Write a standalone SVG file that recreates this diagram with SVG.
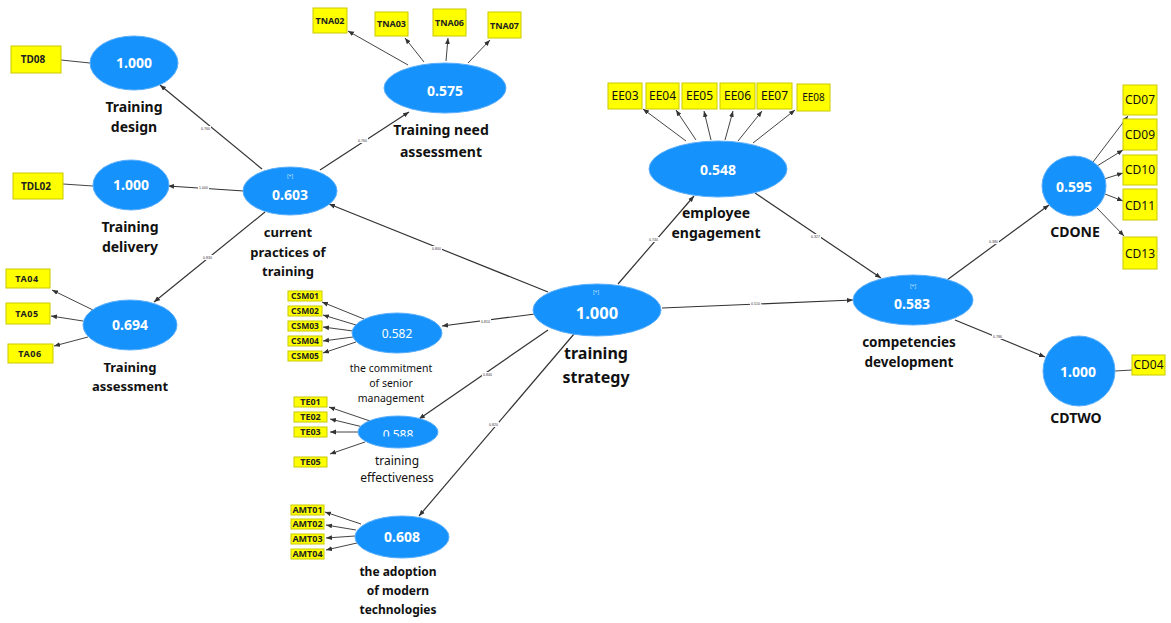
<svg xmlns="http://www.w3.org/2000/svg" width="1171" height="623" viewBox="0 0 1171 623">
<defs>
<marker id="ah" viewBox="0 0 10 10" refX="10" refY="5" markerWidth="6" markerHeight="6" markerUnits="userSpaceOnUse" orient="auto"><path d="M0,1 L10,5 L0,9 z" fill="#333"/></marker>
<clipPath id="teclip"><rect x="350" y="400" width="100" height="36.5"/></clipPath>
<style>
.lv{fill:#1592fb;stroke:#5aaefc;stroke-width:1}
.ind{fill:#ffff00;stroke:#c9c900;stroke-width:1}
.val{font-family:"Noto Sans","Liberation Sans",sans-serif;font-weight:bold;font-size:14px;fill:#fff;text-anchor:middle}
.lab{font-family:"Noto Sans","Liberation Sans",sans-serif;font-weight:bold;font-size:14px;fill:#111;text-anchor:middle}
.slab{font-family:"Noto Sans","Liberation Sans",sans-serif;font-size:10.5px;fill:#111;text-anchor:middle}
.it{font-family:"Noto Sans","Liberation Sans",sans-serif;font-weight:bold;font-size:9px;fill:#222;text-anchor:middle}
.itr{font-family:"Noto Sans","Liberation Sans",sans-serif;font-size:12px;fill:#111;text-anchor:middle}
.plus{font-family:"Noto Sans","Liberation Sans",sans-serif;font-size:5px;fill:#cde6ff;text-anchor:middle}
.c{stroke:#444;stroke-width:1;fill:none}
.ca{stroke:#444;stroke-width:1;fill:none;marker-end:url(#ah)}
.s{stroke:#333;stroke-width:1.2;fill:none;marker-end:url(#ah)}
.pl{fill:#fff}
.pt{font-family:"Liberation Sans",sans-serif;font-size:3.5px;fill:#333;text-anchor:middle}
</style>
</defs>
<rect width="1171" height="623" fill="#fff"/>
<g id="connectors">
<path class="s" d="M262,169 L160,85"/>
<path class="s" d="M244,191 L168,186"/>
<path class="s" d="M265,212 L154,302"/>
<path class="s" d="M320,170 L409,112"/>
<path class="s" d="M548,292 L329,204"/>
<path class="s" d="M618,284 L694,196"/>
<path class="s" d="M662,308 L853,300"/>
<path class="s" d="M755,193 L881,278"/>
<path class="s" d="M947,280 L1049,205"/>
<path class="s" d="M955,320 L1045,357"/>
<path class="s" d="M535,314 L442,326"/>
<path class="s" d="M548,330 L419,419"/>
<path class="s" d="M574,334 L419,516"/>
<path class="c" d="M90,63 L61,60"/>
<path class="c" d="M93,186 L63,184"/>
<path class="c" d="M1115,371 L1132,370"/>
<path class="ca" d="M93,310 L52,290"/>
<path class="ca" d="M83,321 L51,316"/>
<path class="ca" d="M88,337 L54,346"/>
<path class="ca" d="M408,65 L348,31"/>
<path class="ca" d="M424,62 L405,38"/>
<path class="ca" d="M446,61 L448,38"/>
<path class="ca" d="M468,63 L490,40"/>
<path class="ca" d="M686,141 L643,109"/>
<path class="ca" d="M696,140 L676,110"/>
<path class="ca" d="M711,140 L704,111"/>
<path class="ca" d="M725,140 L733,111"/>
<path class="ca" d="M738,141 L762,111"/>
<path class="ca" d="M753,143 L795,110"/>
<path class="ca" d="M1093,162 L1128,116"/>
<path class="ca" d="M1097,166 L1123,150"/>
<path class="ca" d="M1104,179 L1123,173"/>
<path class="ca" d="M1105,194 L1123,201"/>
<path class="ca" d="M1097,208 L1124,236"/>
<path class="ca" d="M364,319 L322,302"/>
<path class="ca" d="M356,325 L323,315"/>
<path class="ca" d="M353,331 L323,327"/>
<path class="ca" d="M353,337 L323,341"/>
<path class="ca" d="M356,342 L323,353"/>
<path class="ca" d="M370,421 L329,407"/>
<path class="ca" d="M363,427 L330,419"/>
<path class="ca" d="M358,432 L330,432"/>
<path class="ca" d="M365,442 L330,454"/>
<path class="ca" d="M361,524 L325,512"/>
<path class="ca" d="M356,530 L326,525"/>
<path class="ca" d="M355,536 L326,538"/>
<path class="ca" d="M357,543 L326,550"/>
<rect class="pl" x="200" y="126" width="11" height="5"/><text class="pt" x="205.5" y="130">0.760</text>
<rect class="pl" x="198" y="185" width="11" height="5"/><text class="pt" x="203.5" y="189">1.000</text>
<rect class="pl" x="202" y="255" width="11" height="5"/><text class="pt" x="207.5" y="259">0.830</text>
<rect class="pl" x="357" y="138" width="11" height="5"/><text class="pt" x="362.5" y="142">0.760</text>
<rect class="pl" x="431" y="246" width="11" height="5"/><text class="pt" x="436.5" y="250">0.800</text>
<rect class="pl" x="648" y="237" width="11" height="5"/><text class="pt" x="653.5" y="241">0.740</text>
<rect class="pl" x="750" y="301" width="11" height="5"/><text class="pt" x="755.5" y="305">0.510</text>
<rect class="pl" x="810" y="234" width="11" height="5"/><text class="pt" x="815.5" y="238">0.327</text>
<rect class="pl" x="988" y="239" width="11" height="5"/><text class="pt" x="993.5" y="243">0.380</text>
<rect class="pl" x="992" y="334" width="11" height="5"/><text class="pt" x="997.5" y="338">0.786</text>
<rect class="pl" x="480" y="319" width="11" height="5"/><text class="pt" x="485.5" y="323">0.810</text>
<rect class="pl" x="482" y="372" width="11" height="5"/><text class="pt" x="487.5" y="376">0.840</text>
<rect class="pl" x="488" y="422" width="11" height="5"/><text class="pt" x="493.5" y="426">0.820</text>
</g>
<g id="n-td"><ellipse class="lv" cx="134" cy="63" rx="44" ry="27"/><text class="val" x="134" y="68">1.000</text><text class="lab" x="134" y="112">Training</text><text class="lab" x="134" y="132">design</text></g>
<g id="n-tdl"><ellipse class="lv" cx="131" cy="185" rx="38" ry="25"/><text class="val" x="131" y="190">1.000</text><text class="lab" x="130" y="232">Training</text><text class="lab" x="130" y="252">delivery</text></g>
<g id="n-cpt"><ellipse class="lv" cx="290" cy="191" rx="47" ry="24"/><text class="plus" x="290" y="178">[+]</text><text class="val" x="290" y="200">0.603</text><text class="lab" x="288" y="237" style="font-size:13px">current</text><text class="lab" x="288" y="257" style="font-size:13px">practices of</text><text class="lab" x="288" y="276" style="font-size:13px">training</text></g>
<g id="n-ta"><ellipse class="lv" cx="130" cy="325" rx="47" ry="25"/><text class="val" x="130" y="330">0.694</text><text class="lab" x="130" y="372" style="font-size:13px">Training</text><text class="lab" x="130" y="391" style="font-size:13px">assessment</text></g>
<g id="n-tna"><ellipse class="lv" cx="445" cy="88" rx="61" ry="25"/><text class="val" x="445" y="96">0.575</text><text class="lab" x="441" y="135">Training need</text><text class="lab" x="441" y="157">assessment</text></g>
<g id="n-ee"><ellipse class="lv" cx="718" cy="169" rx="69" ry="28"/><text class="val" x="718" y="175">0.548</text><text class="lab" x="716" y="218">employee</text><text class="lab" x="716" y="238">engagement</text></g>
<g id="n-ts"><ellipse class="lv" cx="597" cy="310" rx="64" ry="26"/><text class="plus" x="596" y="294">[+]</text><text class="val" x="597" y="319" style="font-size:16.5px">1.000</text><text class="lab" x="596" y="359" style="font-size:16px">training</text><text class="lab" x="596" y="383" style="font-size:16px">strategy</text></g>
<g id="n-cd"><ellipse class="lv" cx="913" cy="300" rx="60" ry="25"/><text class="plus" x="913" y="288">[+]</text><text class="val" x="912" y="309">0.583</text><text class="lab" x="909" y="347" style="font-size:13.5px">competencies</text><text class="lab" x="909" y="367" style="font-size:13.5px">development</text></g>
<g id="n-cdone"><ellipse class="lv" cx="1074" cy="186" rx="32" ry="30"/><text class="val" x="1074" y="192">0.595</text><text class="lab" x="1075" y="237">CDONE</text></g>
<g id="n-cdtwo"><ellipse class="lv" cx="1079" cy="371" rx="36" ry="35"/><text class="val" x="1078" y="377">1.000</text><text class="lab" x="1076" y="423">CDTWO</text></g>
<g id="n-csm"><ellipse class="lv" cx="397" cy="333" rx="45" ry="20"/><text class="val" x="397" y="338" style="font-weight:normal;font-size:12px">0.582</text><text class="slab" x="391" y="372">the commitment</text><text class="slab" x="391" y="387">of senior</text><text class="slab" x="391" y="402">management</text></g>
<g id="n-te"><ellipse class="lv" cx="398" cy="432" rx="40" ry="16"/><text class="val" x="398" y="439" style="font-weight:normal;font-size:12px" clip-path="url(#teclip)">0.588</text><text class="slab" x="397" y="465" style="font-size:12px">training</text><text class="slab" x="397" y="482" style="font-size:12px">effectiveness</text></g>
<g id="n-amt"><ellipse class="lv" cx="402" cy="537" rx="47" ry="21"/><text class="val" x="402" y="542">0.608</text><text class="lab" x="398" y="576" style="font-size:12px">the adoption</text><text class="lab" x="398" y="595" style="font-size:12px">of modern</text><text class="lab" x="398" y="614" style="font-size:12px">technologies</text></g>
<g id="i-td08"><rect class="ind" x="11" y="46" width="50" height="27"/><text class="it" x="33" y="63" style="font-size:10px">TD08</text></g>
<g id="i-tdl02"><rect class="ind" x="13" y="173" width="50" height="26"/><text class="it" x="36" y="190" style="font-size:10px">TDL02</text></g>
<g id="i-ta04"><rect class="ind" x="6" y="269" width="44" height="19"/><text class="it" x="27" y="282" style="font-size:9px;letter-spacing:0.6px">TA04</text></g>
<g id="i-ta05"><rect class="ind" x="6" y="303" width="44" height="21"/><text class="it" x="27" y="317" style="font-size:9px;letter-spacing:0.6px">TA05</text></g>
<g id="i-ta06"><rect class="ind" x="8" y="344" width="45" height="19"/><text class="it" x="30" y="357" style="font-size:9px;letter-spacing:0.6px">TA06</text></g>
<g id="i-tna02"><rect class="ind" x="313" y="8" width="34" height="25"/><text class="it" x="330" y="24">TNA02</text></g>
<g id="i-tna03"><rect class="ind" x="375" y="12" width="33" height="24"/><text class="it" x="391.5" y="27">TNA03</text></g>
<g id="i-tna06"><rect class="ind" x="433" y="9" width="33" height="27"/><text class="it" x="449.5" y="26">TNA06</text></g>
<g id="i-tna07"><rect class="ind" x="488" y="12" width="33" height="26"/><text class="it" x="504.5" y="29">TNA07</text></g>
<g id="i-ee03"><rect class="ind" x="608" y="83" width="34" height="26"/><text class="itr" x="625" y="100">EE03</text></g>
<g id="i-ee04"><rect class="ind" x="646" y="83" width="33" height="26"/><text class="itr" x="662.5" y="100">EE04</text></g>
<g id="i-ee05"><rect class="ind" x="682" y="83" width="35" height="26"/><text class="itr" x="699.5" y="100">EE05</text></g>
<g id="i-ee06"><rect class="ind" x="720" y="83" width="35" height="26"/><text class="itr" x="737.5" y="100">EE06</text></g>
<g id="i-ee07"><rect class="ind" x="757" y="83" width="35" height="26"/><text class="itr" x="774.5" y="100">EE07</text></g>
<g id="i-ee08"><rect class="ind" x="797" y="84" width="33" height="27"/><text class="itr" x="813.5" y="101" style="font-size:10px">EE08</text></g>
<g id="i-cd07"><rect class="ind" x="1123" y="85" width="34" height="30"/><text class="itr" x="1140" y="104">CD07</text></g>
<g id="i-cd09"><rect class="ind" x="1123" y="119" width="34" height="31"/><text class="itr" x="1140" y="139">CD09</text></g>
<g id="i-cd10"><rect class="ind" x="1123" y="155" width="34" height="30"/><text class="itr" x="1140" y="174">CD10</text></g>
<g id="i-cd11"><rect class="ind" x="1123" y="189" width="34" height="31"/><text class="itr" x="1140" y="210">CD11</text></g>
<g id="i-cd13"><rect class="ind" x="1123" y="237" width="34" height="32"/><text class="itr" x="1140" y="258">CD13</text></g>
<g id="i-cd04"><rect class="ind" x="1132" y="355" width="33" height="20"/><text class="itr" x="1148.5" y="369">CD04</text></g>
<g id="i-csm01"><rect class="ind" x="288" y="291" width="34" height="10"/><text class="it" x="305" y="299" style="font-size:8.5px">CSM01</text></g>
<g id="i-csm02"><rect class="ind" x="288" y="306" width="34" height="10"/><text class="it" x="305" y="314" style="font-size:8.5px">CSM02</text></g>
<g id="i-csm03"><rect class="ind" x="288" y="321" width="34" height="10"/><text class="it" x="305" y="329" style="font-size:8.5px">CSM03</text></g>
<g id="i-csm04"><rect class="ind" x="288" y="336" width="34" height="10"/><text class="it" x="305" y="344" style="font-size:8.5px">CSM04</text></g>
<g id="i-csm05"><rect class="ind" x="288" y="351" width="34" height="10"/><text class="it" x="305" y="359" style="font-size:8.5px">CSM05</text></g>
<g id="i-te01"><rect class="ind" x="294" y="397" width="33" height="10"/><text class="it" x="310.5" y="405">TE01</text></g>
<g id="i-te02"><rect class="ind" x="294" y="412" width="33" height="10"/><text class="it" x="310.5" y="420">TE02</text></g>
<g id="i-te03"><rect class="ind" x="294" y="427" width="33" height="10"/><text class="it" x="310.5" y="435">TE03</text></g>
<g id="i-te05"><rect class="ind" x="294" y="457" width="33" height="10"/><text class="it" x="310.5" y="465">TE05</text></g>
<g id="i-amt01"><rect class="ind" x="291" y="505" width="33" height="10"/><text class="it" x="307.5" y="513">AMT01</text></g>
<g id="i-amt02"><rect class="ind" x="291" y="519" width="33" height="10"/><text class="it" x="307.5" y="527">AMT02</text></g>
<g id="i-amt03"><rect class="ind" x="291" y="534" width="33" height="10"/><text class="it" x="307.5" y="542">AMT03</text></g>
<g id="i-amt04"><rect class="ind" x="291" y="549" width="33" height="10"/><text class="it" x="307.5" y="557">AMT04</text></g>
</svg>
